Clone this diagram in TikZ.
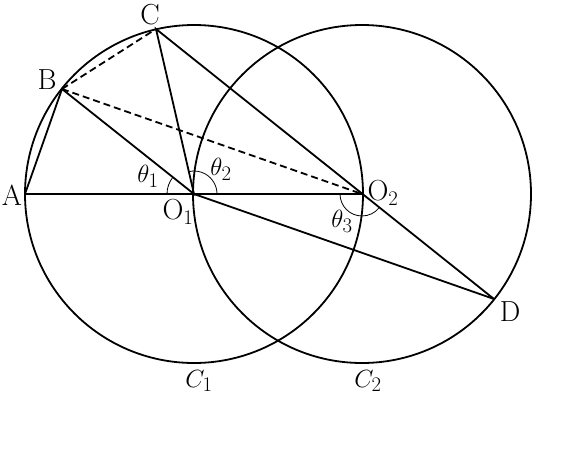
\documentclass[tikz,border=0pt]{standalone}
\usetikzlibrary{calc}
\begin{document}
\begin{tikzpicture}[x=1pt,y=-1pt,
  ln/.style={line width=1.8pt},
  dl/.style={line width=1.8pt,dash pattern=on 7pt off 4pt},
  ang/.style={line width=0.8pt},
  lbl/.style={font=\fontsize{29}{33}\selectfont,inner sep=0pt}]
\useasboundingbox (0,0) rectangle (580,450);
\coordinate (O1) at (194,194);
\coordinate (O2) at (362,194);
\coordinate (A) at (25,194);
\coordinate (B) at (62,89);
\coordinate (C) at (156,29);
\coordinate (D) at (494,299);
\draw[ln] (O1) circle (169);
\draw[ln] (O2) circle (169);
\draw[ln] (A) -- (O2);
\draw[ln] (A) -- (B) -- (O1) -- (C) -- (D);
\draw[ln] (O1) -- (D);
\draw[dl] (B) -- (C);
\draw[dl] (B) -- (O2);
% angle arcs
\draw[ang] ($(O1)+(-27,0)$) arc[start angle=180,end angle=218.5,radius=27];
\draw[ang] ($(O1)+(23,0)$) arc[start angle=0,end angle=-102,radius=23];
\draw[ang] ($(O2)+(-22,0)$) arc[start angle=180,end angle=38.5,radius=22];
\node[lbl] (lA) at (12,195) {A};
\node[lbl] (lB) at (47,80) {B};
\node[lbl] (lC) at (150,15) {C};
\node[lbl] (lO1) at (178,212) {O$_1$};
\node[lbl] (lO2) at (383,193) {O$_2$};
\node[lbl] (lD) at (510,312) {D};
\node[lbl] (t1) at (148,176) {$\theta_1$};
\node[lbl] (t2) at (221,169) {$\theta_2$};
\node[lbl] (t3) at (342,221) {$\theta_3$};
\node[lbl] (c1) at (199,381) {$C_1$};
\node[lbl] (c2) at (368,381) {$C_2$};
\end{tikzpicture}
\end{document}
